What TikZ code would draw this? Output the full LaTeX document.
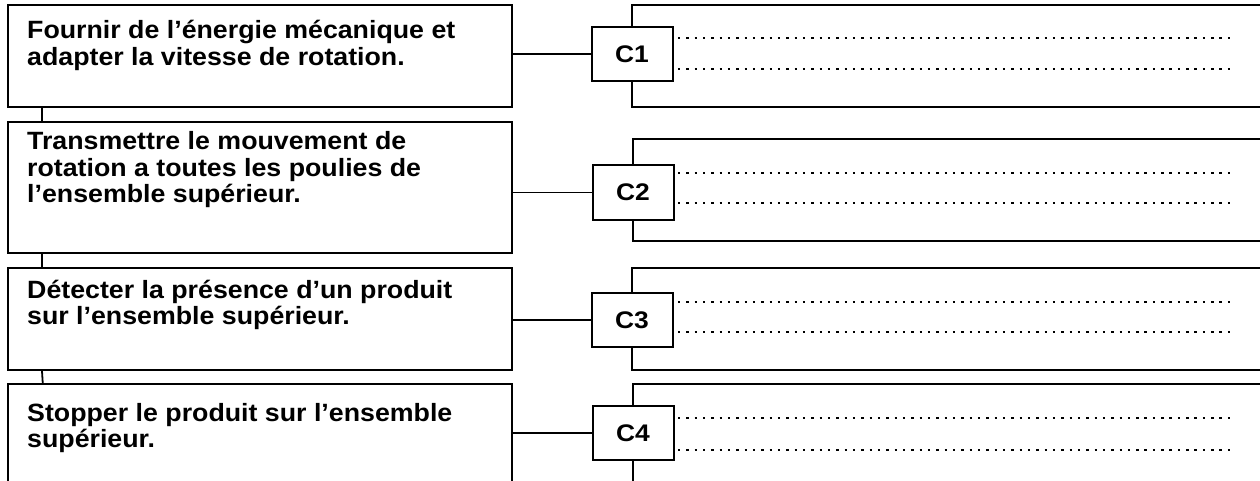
\documentclass[tikz,border=0pt]{standalone}
\usepackage{fontspec}
\setmainfont{Liberation Sans}
\usepackage{graphicx}
\usetikzlibrary{calc}

\begin{document}
\begin{tikzpicture}[x=1pt,y=-1pt,
  frame/.style={draw, line width=2pt, inner sep=0pt, minimum width=504pt},
  cbox/.style={draw, line width=2pt, fill=white, inner sep=0pt,
    minimum width=81pt, minimum height=54pt,
    font=\fontsize{24}{26}\selectfont\bfseries},
  link/.style={line width=1.8pt},
  rail/.style={line width=2.2pt},
  dots/.style={line width=2.4pt, dash pattern=on 2.4pt off 5.93pt},
  label/.style={anchor=base west, inner sep=0pt,
    font=\fontsize{25}{26.2}\selectfont\bfseries}
]
\path[use as bounding box, fill=white] (0,0) rectangle (1260,481);

% function frames
\node[frame, minimum height=102pt] (f1) at (260,56) {};
\node[frame, minimum height=131pt] (f2) at (260,187.5) {};
\node[frame, minimum height=102pt] (f3) at (260,319) {};
\node[inner sep=0pt, minimum width=504pt, minimum height=97pt] (f4) at (260,432.5) {};
\draw[line width=2pt] (f4.south west) -- (f4.north west) -- (f4.north east) -- (f4.south east);

% function texts
\node[label] (t1) at (27,39) {\scalebox{1.07}[1]{\begin{tabular}[t]{@{}l@{}}Fournir de l’énergie mécanique et\\adapter la vitesse de rotation.\end{tabular}}};
\node[label] (t2) at (27,150) {\scalebox{1.07}[1]{\begin{tabular}[t]{@{}l@{}}Transmettre le mouvement de\\rotation a toutes les poulies de\\l’ensemble supérieur.\end{tabular}}};
\node[label] (t3) at (27,298) {\scalebox{1.07}[1]{\begin{tabular}[t]{@{}l@{}}Détecter la présence d’un produit\\sur l’ensemble supérieur.\end{tabular}}};
\node[label] (t4) at (27,421) {\scalebox{1.07}[1]{\begin{tabular}[t]{@{}l@{}}Stopper le produit sur l’ensemble\\supérieur.\end{tabular}}};

% links between frames
\draw[link] ([xshift=35pt]f1.south west) -- ([xshift=35pt]f2.north west);
\draw[link] ([xshift=35pt]f2.south west) -- ([xshift=35pt]f3.north west);
\draw[link] ([xshift=35pt]f3.south west) -- ([xshift=35pt]f4.north west);

% solution boxes
\node[cbox] (c1) at (632,54) {\scalebox{1.1}[1]{C1}};
\node[cbox] (c2) at (633,192.5) {\scalebox{1.1}[1]{C2}};
\node[cbox] (c3) at (632,320) {\scalebox{1.1}[1]{C3}};
\node[cbox] (c4) at (633,433) {\scalebox{1.1}[1]{C4}};

\draw[link] (f1.east |- c1.west) -- (c1.west);
\draw[link] (f2.east |- c2.west) -- (c2.west);
\draw[link] (f3.east |- c3.west) -- (c3.west);
\draw[link] (f4.east |- c4.west) -- (c4.west);

% answer rails
\coordinate (r1t) at (1262,5);   \coordinate (r1b) at (1262,107);
\coordinate (r2t) at (1262,139); \coordinate (r2b) at (1262,241);
\coordinate (r3t) at (1262,268); \coordinate (r3b) at (1262,370);
\coordinate (r4t) at (1262,384); \coordinate (r4b) at (632,483);

\draw[rail] (c1.north) |- (r1t);
\draw[rail] (c1.south) |- (r1b);
\draw[rail] (c2.north) |- (r2t);
\draw[rail] (c2.south) |- (r2b);
\draw[rail] (c3.north) |- (r3t);
\draw[rail] (c3.south) |- (r3b);
\draw[rail] (c4.north) |- (r4t);
\draw[rail] (c4.south) -- (c4.south |- r4b);

% dotted answer lines
\foreach \y in {38,69,173,203,302,332,418,450}
  \draw[dots] (678,\y) -- (1232,\y);

\end{tikzpicture}
\end{document}
